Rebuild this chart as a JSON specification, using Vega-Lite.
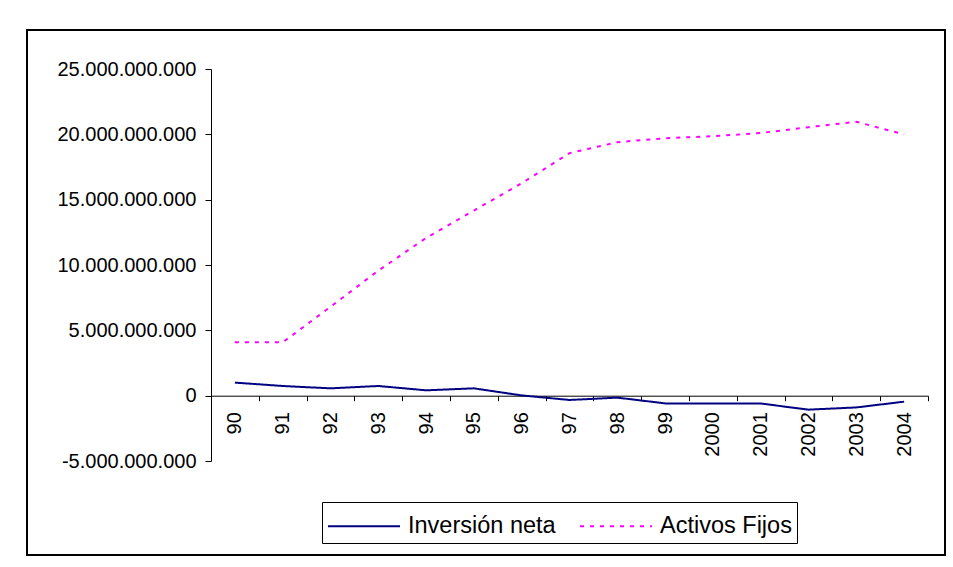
{
  "$schema": "https://vega.github.io/schema/vega-lite/v6.json",
  "width": 918,
  "height": 525,
  "autosize": {"type": "none"},
  "padding": {"left": 27, "top": 30, "right": 8, "bottom": 12},
  "background": "white",
  "config": {
    "view": {"stroke": "black", "strokeWidth": 2},
    "font": "Liberation Sans",
    "locale": {"number": {"decimal": ",", "thousands": ".", "grouping": [3], "currency": ["", ""], "minus": "-"}},
    "axis": {"grid": false, "domainColor": "black", "tickColor": "black", "labelColor": "black", "labelFont": "Liberation Sans", "labelFontSize": 20, "title": null},
    "legend": {"title": null, "orient": "none", "legendX": 295, "legendY": 472, "direction": "horizontal", "strokeColor": "black", "padding": 5, "symbolType": "M-1,0H3", "symbolSize": 1296, "symbolStrokeWidth": 2, "labelFontSize": 23.5, "labelFont": "Liberation Sans", "labelColor": "black", "labelOffset": 43, "columnPadding": 20, "labelLimit": 300}
  },
  "data": {
    "values": [
      {"anio": "90", "serie": "Inversión neta", "valor": 1000000000},
      {"anio": "91", "serie": "Inversión neta", "valor": 740000000},
      {"anio": "92", "serie": "Inversión neta", "valor": 560000000},
      {"anio": "93", "serie": "Inversión neta", "valor": 740000000},
      {"anio": "94", "serie": "Inversión neta", "valor": 410000000},
      {"anio": "95", "serie": "Inversión neta", "valor": 560000000},
      {"anio": "96", "serie": "Inversión neta", "valor": 20000000},
      {"anio": "97", "serie": "Inversión neta", "valor": -330000000},
      {"anio": "98", "serie": "Inversión neta", "valor": -150000000},
      {"anio": "99", "serie": "Inversión neta", "valor": -590000000},
      {"anio": "2000", "serie": "Inversión neta", "valor": -590000000},
      {"anio": "2001", "serie": "Inversión neta", "valor": -600000000},
      {"anio": "2002", "serie": "Inversión neta", "valor": -1070000000},
      {"anio": "2003", "serie": "Inversión neta", "valor": -900000000},
      {"anio": "2004", "serie": "Inversión neta", "valor": -460000000},
      {"anio": "90", "serie": "Activos Fijos", "valor": 4080000000},
      {"anio": "91", "serie": "Activos Fijos", "valor": 4080000000},
      {"anio": "92", "serie": "Activos Fijos", "valor": 6800000000},
      {"anio": "93", "serie": "Activos Fijos", "valor": 9570000000},
      {"anio": "94", "serie": "Activos Fijos", "valor": 12070000000},
      {"anio": "95", "serie": "Activos Fijos", "valor": 14170000000},
      {"anio": "96", "serie": "Activos Fijos", "valor": 16260000000},
      {"anio": "97", "serie": "Activos Fijos", "valor": 18560000000},
      {"anio": "98", "serie": "Activos Fijos", "valor": 19400000000},
      {"anio": "99", "serie": "Activos Fijos", "valor": 19700000000},
      {"anio": "2000", "serie": "Activos Fijos", "valor": 19860000000},
      {"anio": "2001", "serie": "Activos Fijos", "valor": 20100000000},
      {"anio": "2002", "serie": "Activos Fijos", "valor": 20550000000},
      {"anio": "2003", "serie": "Activos Fijos", "valor": 20960000000},
      {"anio": "2004", "serie": "Activos Fijos", "valor": 20000000000}
    ]
  },
  "mark": {"type": "line", "strokeWidth": 2},
  "encoding": {
    "x": {
      "field": "anio", "type": "ordinal", "sort": null, "bandPosition": 0.5,
      "scale": {"type": "band", "range": [184, 901], "paddingInner": 0, "paddingOuter": 0},
      "axis": {"orient": "bottom", "offset": -159.3, "labelAngle": 270, "tickBand": "extent", "tickSize": 5, "labelPadding": 11, "labelAlign": "right", "labelBaseline": "middle"}
    },
    "y": {
      "field": "valor", "type": "quantitative",
      "scale": {"domain": [-5000000000, 25000000000], "range": [431, 39], "nice": false, "zero": false},
      "axis": {"orient": "left", "offset": -184, "values": [-5000000000, 0, 5000000000, 10000000000, 15000000000, 20000000000, 25000000000], "format": ",d", "tickSize": 6, "labelPadding": 9}
    },
    "color": {
      "field": "serie", "type": "nominal",
      "scale": {"domain": ["Inversión neta", "Activos Fijos"], "range": ["#000080", "#FF00FF"]}
    },
    "strokeDash": {
      "field": "serie", "type": "nominal",
      "scale": {"domain": ["Inversión neta", "Activos Fijos"], "range": [[1, 0], [4, 6]]}
    }
  }
}
